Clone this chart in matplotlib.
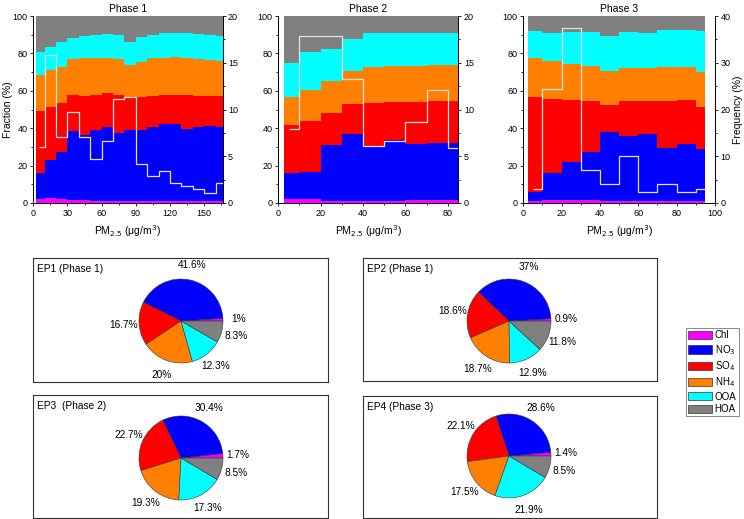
import numpy as np
import matplotlib
matplotlib.use("Agg")
import matplotlib.pyplot as plt
from matplotlib.patches import Patch
from matplotlib.ticker import MultipleLocator

plt.rcParams['font.family'] = ['Liberation Sans', 'DejaVu Sans']

species = ["Chl", "NO$_3$", "SO$_4$", "NH$_4$", "OOA", "HOA"]
colors = ["#ff00ff", "#0000ff", "#ff0000", "#ff8000", "#00ffff", "#808080"]

# ---- Phase 1 (fraction %, per PM2.5 bin) ----
p1_edges = [2, 10, 20, 30, 40, 50, 60, 70, 80, 90, 100, 110, 120, 130, 140, 150, 160, 166]
p1_chl = [2.0, 2.5, 2.0, 1.5, 1.5, 1.2, 1.0, 1.0, 1.0, 1.0, 1.0, 1.0, 1.0, 1.0, 1.0, 1.0, 1.2]
p1_no3 = [14.0, 20.5, 25.2, 37.2, 34.9, 37.8, 39.5, 36.3, 38.0, 38.0, 39.9, 41.3, 41.3, 38.6, 39.5, 40.2, 39.3]
p1_so4 = [33.2, 28.2, 26.4, 19.0, 21.0, 18.7, 18.1, 20.4, 17.5, 17.8, 16.5, 15.7, 15.7, 17.9, 16.9, 15.8, 16.5]
p1_nh4 = [19.0, 19.8, 19.2, 19.2, 20.2, 19.9, 19.2, 19.2, 17.5, 18.7, 19.9, 19.8, 20.2, 20.1, 19.7, 19.4, 19.0]
p1_ooa = [12.3, 12.5, 13.3, 11.4, 11.6, 12.4, 12.8, 13.1, 12.1, 13.3, 12.7, 13.1, 12.7, 13.3, 13.1, 13.3, 13.3]
p1_hoa = [19.5, 16.5, 13.9, 11.7, 10.8, 10.0, 9.4, 10.0, 13.9, 11.2, 10.0, 9.1, 9.1, 9.1, 9.8, 10.3, 10.7]
p1_freq_edges = [5, 10, 20, 30, 40, 50, 60, 70, 80, 90, 100, 110, 120, 130, 140, 150, 160, 166]
p1_freq = [6.0, 15.8, 7.1, 9.7, 7.1, 4.7, 6.6, 11.1, 11.3, 4.2, 2.9, 3.4, 2.1, 1.8, 1.5, 1.1, 2.1]

# ---- Phase 2 ----
p2_edges = [2.5, 10, 20, 30, 40, 50, 60, 70, 80, 85]
p2_chl = [2.0, 2.0, 1.2, 1.0, 1.0, 1.2, 1.5, 1.5, 1.5]
p2_no3 = [14.3, 14.8, 29.8, 35.8, 29.7, 32.5, 29.9, 30.5, 30.5]
p2_so4 = [25.4, 27.1, 17.3, 16.1, 22.9, 20.1, 22.6, 22.7, 22.5]
p2_nh4 = [14.8, 16.5, 16.9, 17.8, 18.9, 19.4, 19.2, 18.9, 19.1]
p2_ooa = [18.1, 20.4, 16.9, 16.9, 18.6, 17.9, 17.9, 17.5, 17.5]
p2_hoa = [25.4, 19.2, 17.9, 12.4, 8.9, 8.9, 8.9, 8.9, 8.9]
p2_freq_edges = [5, 10, 20, 30, 40, 50, 60, 70, 80, 85]
p2_freq = [7.9, 17.9, 17.9, 13.3, 6.1, 6.6, 8.7, 12.1, 5.9]

# ---- Phase 3 ----
p3_edges = [2.5, 10, 20, 30, 40, 50, 60, 70, 80, 90, 95]
p3_chl = [1.2, 1.5, 1.5, 1.5, 1.2, 1.0, 1.0, 1.2, 1.2, 1.2]
p3_no3 = [4.5, 14.5, 20.3, 26.0, 36.6, 34.9, 36.0, 28.1, 30.4, 27.6]
p3_so4 = [51.0, 39.6, 33.2, 26.8, 14.4, 18.6, 17.5, 25.2, 23.4, 22.4]
p3_nh4 = [20.9, 20.2, 19.2, 19.1, 18.3, 17.8, 17.8, 18.1, 17.8, 19.0]
p3_ooa = [14.6, 15.0, 17.3, 17.9, 18.8, 19.0, 18.8, 20.1, 19.7, 22.0]
p3_hoa = [7.8, 9.2, 8.5, 8.7, 10.7, 8.7, 8.9, 7.3, 7.5, 7.8]
p3_freq_edges = [5, 10, 20, 30, 40, 50, 60, 70, 80, 90, 95]
p3_freq = [3.0, 24.3, 37.5, 7.1, 4.1, 10.1, 2.3, 4.1, 2.3, 3.0]

# ---- episode pies (Chl, NO3, SO4, NH4, OOA, HOA) ----
ep_titles = ["EP1 (Phase 1)", "EP2 (Phase 1)", "EP3  (Phase 2)", "EP4 (Phase 3)"]
ep1 = [1, 41.6, 16.7, 20, 12.3, 8.3]
ep2 = [0.9, 37, 18.6, 18.7, 12.9, 11.8]
ep3 = [1.7, 30.4, 22.7, 19.3, 17.3, 8.5]
ep4 = [1.4, 28.6, 22.1, 17.5, 21.9, 8.5]

W, H = 744, 519
fig = plt.figure(figsize=(W / 100, H / 100), dpi=100)


def px_axes(l, t, r, b):
    return fig.add_axes([l / W, 1 - b / H, (r - l) / W, (b - t) / H])


phases = [
    ("Phase 1", p1_edges, [p1_chl, p1_no3, p1_so4, p1_nh4, p1_ooa, p1_hoa], p1_freq_edges, p1_freq,
     (33.3, 222.5), 166, 30, 20, 5),
    ("Phase 2", p2_edges, [p2_chl, p2_no3, p2_so4, p2_nh4, p2_ooa, p2_hoa], p2_freq_edges, p2_freq,
     (278.3, 458.3), 85, 20, 20, 5),
    ("Phase 3", p3_edges, [p3_chl, p3_no3, p3_so4, p3_nh4, p3_ooa, p3_hoa], p3_freq_edges, p3_freq,
     (523.3, 715), 100, 20, 40, 10),
]

for i, (title, edges, comps, fedges, freq, (l, r), xmax, xstep, fmax, fstep) in enumerate(phases):
    ax = px_axes(l, 16, r, 203)
    bottom = np.zeros(len(edges) - 1)
    for vals, c in zip(comps, colors):
        top = bottom + np.array(vals)
        ax.stairs(top, edges, baseline=bottom, fill=True, color=c, linewidth=0)
        bottom = top
    ax.set_xlim(0, xmax)
    ax.set_ylim(0, 100)
    ax.xaxis.set_major_locator(MultipleLocator(xstep))
    ax.xaxis.set_minor_locator(MultipleLocator(xstep / 2))
    ax.yaxis.set_major_locator(MultipleLocator(20))
    ax.yaxis.set_minor_locator(MultipleLocator(10))
    ax.tick_params(which='both', direction='out', labelsize=6.5, length=2.5, width=0.6, pad=1.5)
    ax.tick_params(which='minor', length=1.5)
    ax.set_title(title, fontsize=7.5, pad=3)
    ax.set_xlabel("PM$_{2.5}$ (μg/m$^3$)", fontsize=7.5, labelpad=4)
    if i == 0:
        ax.set_ylabel("Fraction (%)", fontsize=7.5)
        ax.yaxis.set_label_coords((13 - l) / (r - l), 0.5)
    ax.spines['top'].set_visible(False)

    ax2 = ax.twinx()
    ax2.stairs(freq, fedges, baseline=None, color="#e4e4e4", linewidth=0.9)
    ax2.set_ylim(0, fmax)
    ax2.yaxis.set_major_locator(MultipleLocator(fstep))
    ax2.yaxis.set_minor_locator(MultipleLocator(fstep / 2))
    ax2.tick_params(which='both', direction='out', labelsize=6.5, length=2.5, width=0.6, pad=1.5)
    ax2.tick_params(which='minor', length=1.5)
    ax2.spines['top'].set_visible(False)
    if i == 2:
        ax2.set_ylabel("Frequency (%)", fontsize=7.5)
        ax2.yaxis.set_label_coords((733 - l) / (r - l), 0.5)
    for s in list(ax.spines.values()) + list(ax2.spines.values()):
        s.set_linewidth(0.6)

# pie panels: (box l, t, r, b), pie centre, radius in px
boxes = [(33, 258, 328, 382), (363, 258, 657, 381), (33, 395, 328, 518), (363, 396, 657, 518)]
centres = [(181, 321), (509, 321), (181, 458), (509, 456)]
radius = 42
for box, (cx, cy), ttl, vals in zip(boxes, centres, ep_titles, [ep1, ep2, ep3, ep4]):
    bx = px_axes(*box)
    bx.set_xticks([])
    bx.set_yticks([])
    for s in bx.spines.values():
        s.set_linewidth(0.8)
        s.set_color("#333333")
    bx.text(0.012, 0.95, ttl, transform=bx.transAxes, fontsize=7.3, va='top', ha='left')

    k = 1.8
    pa = px_axes(cx - radius * k, cy - radius * k, cx + radius * k, cy + radius * k)
    wedges, texts = pa.pie(vals, colors=colors, startangle=0, counterclock=True,
                           labels=[f"{v:g}%" for v in vals], labeldistance=1.36,
                           wedgeprops=dict(edgecolor="#333333", linewidth=0.4),
                           textprops=dict(fontsize=7.3))
    for t in texts:
        t.set_ha('center')
        t.set_va('center')
    pa.set_xlim(-k, k)
    pa.set_ylim(-k, k)
    pa.axis('off')

handles = [Patch(facecolor=c, edgecolor="#333333", linewidth=0.5) for c in colors]
leg = fig.legend(handles, species, loc='upper left', bbox_to_anchor=(686 / W, 1 - 328 / H),
                 fontsize=7, frameon=True, fancybox=False, edgecolor="#555555",
                 handlelength=2.4, handleheight=0.9, labelspacing=0.25, borderpad=0.25,
                 handletextpad=0.3, borderaxespad=0)
leg.get_frame().set_linewidth(0.6)

fig.savefig("out.png", dpi=100)
